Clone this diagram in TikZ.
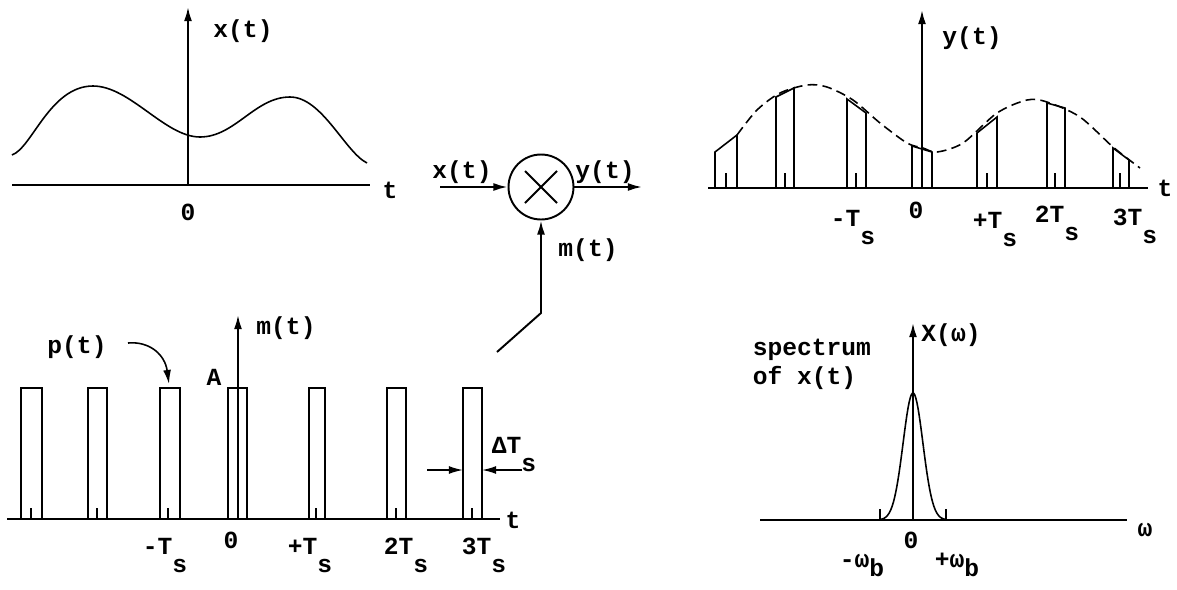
\documentclass[tikz,border=0pt]{standalone}
\usepackage{fontspec}
\setmonofont{Liberation Mono}
\usetikzlibrary{arrows.meta}
\newcommand{\lowsub}[1]{\raisebox{-0.75em}{#1}}
\newcommand{\bsub}[1]{\raisebox{-0.4em}{#1}}
\tikzset{
  lbl/.style={font=\ttfamily\bfseries\fontsize{14}{16}\selectfont, inner sep=0pt},
  axis/.style={line width=1.1pt},
  tip/.style={-{Latex[length=8pt,width=4.5pt]}}
}
\begin{document}
\begin{tikzpicture}[x=0.02cm, y=-0.02cm, line width=0.9pt]
  \useasboundingbox (0,0) rectangle (1177,589);
  % x(t)
  \draw[axis] (12,185) -- (370,185);
  \draw[axis,tip] (188,185) -- (188,7);
  \draw (12,155) .. controls (32,148) and (50,86) .. (93,86)
        .. controls (130,86) and (165,137) .. (200,137)
        .. controls (235,137) and (255,97) .. (290,97)
        .. controls (322,97) and (345,152) .. (367,163);
  \node[lbl] (xtop) at (243,31) {x(t)};
  \node[lbl] (t1) at (390,190) {t};
  \node[lbl,anchor=base] (zero1) at (188,220) {0};
  % multiplier
  \node[draw, circle, minimum size=1.3cm, line width=1.1pt] (mult) at (541,187) {};
  \draw[line width=1.1pt] (mult.center) ++(-16,-16) -- ++(32,32);
  \draw[line width=1.1pt] (mult.center) ++(16,-16) -- ++(-32,32);
  \coordinate (xin) at (440,187);
  \coordinate (yout) at (642,187);
  \coordinate (mbend) at (541,313);
  \coordinate (mfoot) at (497,352);
  \draw[axis,tip] (xin) -- (mult);
  \draw[axis,tip] (mult) -- (yout);
  \draw[axis,tip] (mfoot) -- (mbend) -- (mult);
  \node[lbl] (xinlab) at (462,172) {x(t)};
  \node[lbl] (youtlab) at (605,172) {y(t)};
  \node[lbl] (mlab) at (588,250) {m(t)};
  % y(t)
  \draw[axis] (708,188) -- (1148,188);
  \draw[axis,tip] (922,188) -- (922,10);
  \draw[dash pattern=on 5.5pt off 3pt] plot[smooth] coordinates {(737,135) (757,110) (780,93) (807,85) (827,87) (853,100) (880,123) (907,143) (923,148) (937,152) (963,143) (997,113) (1027,100) (1047,102) (1080,117) (1113,147) (1140,168)};
  \foreach \xl/\xr/\tl/\tr/\xc in {715/737/152/135/726, 776/794/97/88/785, 847/866/99/113/856, 977/997/133/117/987, 1047/1065/103/108/1055, 1113/1129/148/160/1120} {
    \draw (\xl,188) -- (\xl,\tl) -- (\xr,\tr) -- (\xr,188);
    \draw (\xc,188) -- (\xc,173);
  }
  \draw (912,188) -- (912,146) -- (932,152) -- (932,188);
  \node[lbl] (ylab) at (972,38) {y(t)};
  \node[lbl] (t2) at (1165,188) {t};
  \node[lbl,anchor=base] (zero2) at (916,218) {0};
  \node[lbl,anchor=base] (mts2) at (853,226) {-T\lowsub{s}};
  \node[lbl,anchor=base] (pts2) at (995,228) {+T\lowsub{s}};
  \node[lbl,anchor=base] (tts2) at (1057,222) {2T\lowsub{s}};
  \node[lbl,anchor=base] (hts2) at (1135,225) {3T\lowsub{s}};
  % m(t)
  \draw[axis] (7,519) -- (500,519);
  \draw[axis,tip] (238,519) -- (238,315);
  \foreach \xl/\xr in {21/42, 88/107, 160/180, 228/247, 309/325, 387/406, 463/482}
    \draw (\xl,519) -- (\xl,388) -- (\xr,388) -- (\xr,519);
  \foreach \xc in {31,97,168,316,396,472}
    \draw (\xc,519) -- (\xc,508);
  \node[lbl] (mtop) at (286,328) {m(t)};
  \node[lbl] (amp) at (214,377) {A};
  \node[lbl] (plab) at (77,347) {p(t)};
  \coordinate (pstart) at (128,343);
  \coordinate (ptop) at (169,384);
  \draw[tip] (pstart) .. controls (150,341) and (165,355) .. (ptop);
  \node[lbl] (t3) at (513,520) {t};
  \node[lbl,anchor=base] (zero3) at (231,548) {0};
  \node[lbl,anchor=base] (mts3) at (165,554) {-T\lowsub{s}};
  \node[lbl,anchor=base] (pts3) at (310,554) {+T\lowsub{s}};
  \node[lbl,anchor=base] (tts3) at (406,554) {2T\lowsub{s}};
  \node[lbl,anchor=base] (hts3) at (484,554) {3T\lowsub{s}};
  \node[lbl,anchor=base] (dts) at (514,453) {ΔT\lowsub{s}};
  \coordinate (dl) at (427,470);
  \coordinate (pl) at (463,470);
  \coordinate (dr) at (522,470);
  \coordinate (pr) at (482,470);
  \draw[tip] (dl) -- (pl);
  \draw[tip] (dr) -- (pr);
  % X(w)
  \draw[axis] (760,520) -- (1127,520);
  \draw[axis,tip] (913,520) -- (913,323);
  \draw[domain=-33:33, samples=60] plot ({\x+913}, {520-127*exp(-1*(\x/14)*(\x/14))});
  \draw (880,520) -- (880,509);
  \draw (946,520) -- (946,509);
  \node[lbl] (Xlab) at (951,335) {X(ω)};
  \node[lbl,anchor=base west] (spec1) at (752,355) {spectrum};
  \node[lbl,anchor=base west] (spec2) at (752,384) {of x(t)};
  \node[lbl] (w) at (1145,530) {ω};
  \node[lbl,anchor=base] (zero4) at (911,548) {0};
  \node[lbl,anchor=base] (mwb) at (862,567) {-ω\bsub{b}};
  \node[lbl,anchor=base] (pwb) at (957,567) {+ω\bsub{b}};
\end{tikzpicture}
\end{document}
